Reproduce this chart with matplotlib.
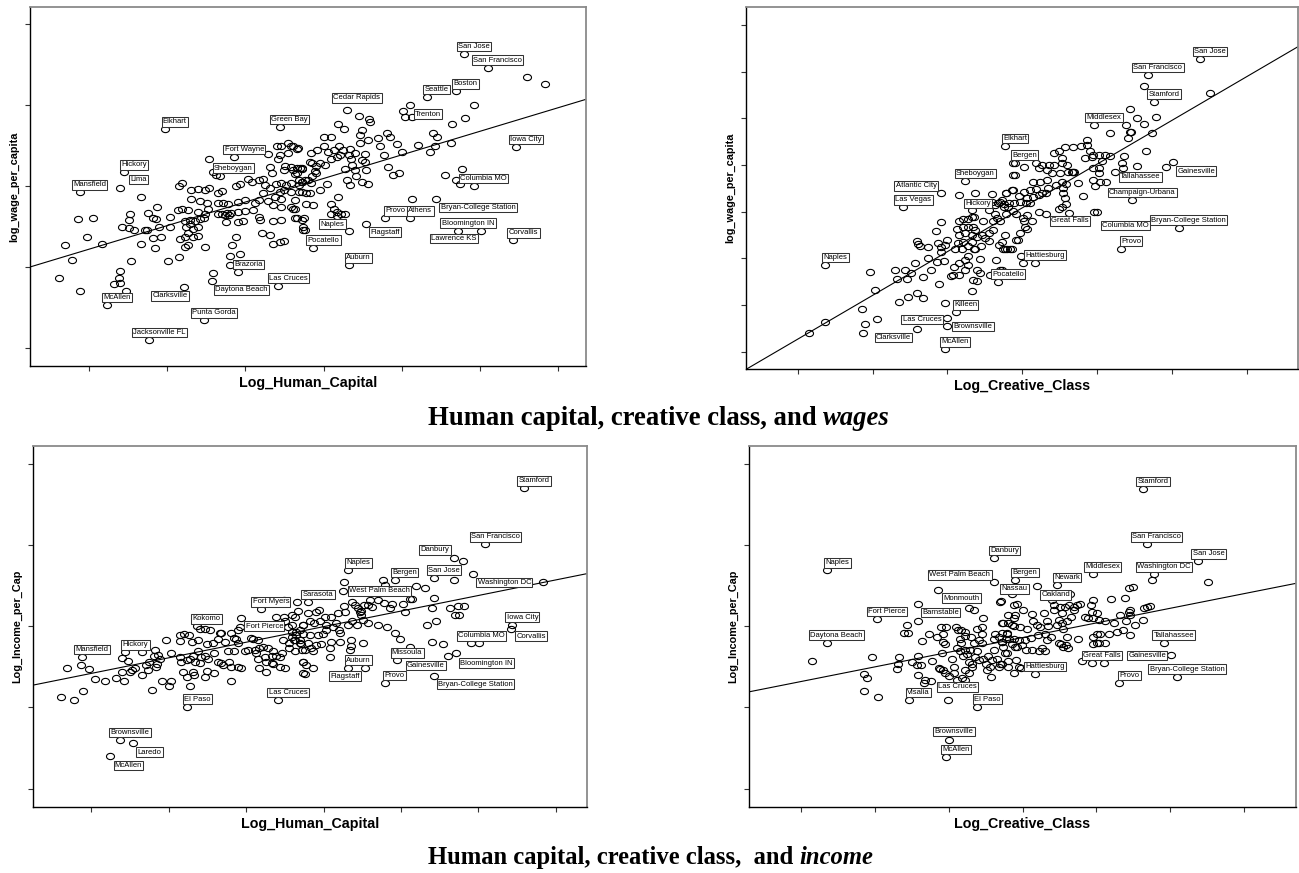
import numpy as np
import matplotlib
matplotlib.use("Agg")
import matplotlib.pyplot as plt
from matplotlib.path import Path

# ---------------------------------------------------------------
# Metro-area scatter data (log scale units, unlabeled ticks)
# ---------------------------------------------------------------

# Panel A: Log_Human_Capital vs log_wage_per_capita
wage_hc_points = [
    (0.61,1.86),(0.88,1.70),(0.78,2.09),(0.69,2.27),(0.97,2.37),(0.86,2.59),(1.05,2.60),(1.17,2.29),
    (1.40,1.95),(1.38,1.87),(1.32,1.79),(1.40,1.80),(1.47,1.70),(1.54,2.07),(1.42,2.49),(1.51,2.58),
    (1.51,2.48),(1.57,2.46),(1.52,2.66),(1.66,2.87),(1.67,2.29),(1.71,2.46),(1.74,2.46),(1.75,2.67),
    (1.82,2.61),(1.86,2.59),(1.87,2.74),(1.82,2.36),(1.92,2.37),(1.84,2.23),(1.89,2.49),(2.01,2.07),
    (2.04,2.62),(2.04,2.49),(2.15,3.00),(2.19,3.04),(2.14,2.70),(2.19,2.72),(2.27,2.70),(2.15,2.12),
    (2.16,2.34),(2.23,2.37),(2.27,2.42),(2.33,2.37),(2.40,2.38),(2.27,2.27),(2.23,2.25),(2.49,2.25),
    (2.23,2.57),(2.29,2.58),(2.36,2.57),(2.42,2.59),(2.47,2.60),(2.24,2.50),(2.29,2.53),(2.33,2.47),
    (2.40,2.49),(2.31,2.95),(2.40,2.96),(2.48,2.95),(2.54,2.97),(2.31,2.84),(2.42,2.81),(2.51,2.79),
    (2.52,2.72),(2.40,2.68),(2.48,2.66),(2.54,3.33),(2.59,3.17),(2.63,3.13),(2.65,2.91),(2.70,2.94),
    (2.65,2.79),(2.72,2.79),(2.78,2.78),(2.65,2.65),(2.70,2.66),(2.74,2.64),(2.76,2.67),(2.79,2.64),
    (2.82,2.67),(2.88,3.00),(2.93,3.03),(2.91,2.80),(3.00,2.83),(2.91,2.68),(3.00,2.69),(2.75,2.55),
    (2.90,2.56),(2.97,2.57),(2.83,2.27),(2.88,2.37),(2.80,2.14),(2.93,2.16),(2.80,2.02),(2.58,1.92),
    (3.04,3.09),(3.08,3.05),(3.17,3.07),(3.22,3.09),(3.25,3.01),(3.32,2.98),(3.39,3.02),(3.46,3.04),
    (3.52,3.01),(3.59,3.04),(3.68,3.07),(3.72,3.05),(3.12,2.79),(3.17,2.83),(3.22,2.91),(3.29,2.81),
    (3.38,2.87),(3.44,2.92),(3.46,2.84),(3.49,2.95),(3.36,2.77),(3.46,2.74),(3.59,2.74),(3.64,2.83),
    (3.73,2.92),(3.10,2.70),(3.17,2.62),(3.36,2.57),(3.46,2.58),(3.61,2.72),(3.64,2.60),(3.72,2.58),
    (3.19,2.58),(3.74,2.46),(3.21,2.42),(3.31,2.40),(3.35,2.29),(3.44,2.31),(3.49,2.32),(3.29,3.39),
    (3.40,3.50),(3.46,3.49),(3.44,3.38),(3.54,3.53),(3.59,3.49),(3.67,3.47),(3.55,3.41),(3.42,3.33),
    (3.32,3.24),(3.51,3.25),(3.59,3.24),(3.66,3.22),(3.49,3.20),(3.34,3.16),(3.72,3.22),(3.64,3.15),
    (6.60,4.34),(6.83,4.26),(5.93,4.00),(5.02,3.93),(5.04,3.85),(5.13,3.85),(5.81,3.84),(5.65,3.77),
    (4.45,3.86),(4.58,3.83),(4.59,3.79),(4.18,3.77),(4.26,3.71),(4.49,3.69),(4.47,3.63),(4.57,3.57),
    (4.70,3.59),(4.81,3.66),(4.85,3.61),(4.94,3.52),(5.40,3.65),(5.45,3.60),(5.21,3.51),(5.43,3.49),
    (5.36,3.42),(5.63,3.53),(5.01,3.42),(4.00,3.61),(4.10,3.60),(3.61,3.49),(3.66,3.46),(3.84,3.41),
    (3.92,3.44),(4.01,3.49),(4.06,3.42),(4.13,3.44),(4.20,3.49),(4.25,3.44),(4.34,3.46),(4.40,3.41),
    (4.47,3.53),(4.53,3.40),(4.78,3.38),(4.72,3.49),(3.83,3.30),(3.85,3.28),(3.95,3.28),(3.91,3.25),
    (4.02,3.26),(4.10,3.33),(4.17,3.36),(4.21,3.38),(4.32,3.38),(4.35,3.33),(4.49,3.32),(4.53,3.30),
    (3.61,3.20),(3.70,3.22),(3.73,3.21),(3.66,3.16),(3.89,3.19),(3.91,3.16),(3.85,3.12),(4.28,3.21),
    (4.36,3.26),(4.40,3.20),(4.54,3.20),(4.83,3.24),(4.89,3.14),(4.96,3.16),(5.77,3.21),(5.55,3.13),
    (5.69,3.08),(5.74,3.02),(3.72,3.05),(3.76,3.07),(3.80,3.07),(3.84,3.04),(3.68,3.01),(4.05,3.03),
    (4.30,3.07),(4.34,3.01),(4.42,3.12),(4.49,3.05),(4.57,3.03),(3.59,2.93),(3.68,2.92),(3.78,2.91),
    (3.83,2.91),(3.95,2.95),(4.18,2.87),(3.78,2.78),(3.87,2.77),(3.63,2.72),(4.10,2.78),(4.13,2.72),
    (4.17,2.68),(4.23,2.66),(4.28,2.66),(4.09,2.66),(3.66,2.60),(3.75,2.60),(3.74,2.50),(3.76,2.46),
    (4.17,2.63),(5.13,2.84),
]
wage_hc_cities = ["Elkhart", "Green Bay", "Fort Wayne", "Hickory", "Lima", "Mansfield", "Sheboygan",
                  "Brazoria", "Las Cruces", "Daytona Beach", "McAllen", "Clarksville", "Punta Gorda",
                  "Jacksonville FL", "San Jose", "San Francisco", "Boston", "Seattle", "Cedar Rapids",
                  "Trenton", "Iowa City", "Columbia MO", "Provo", "Athens", "Bryan-College Station",
                  "Bloomington IN", "Lawrence KS", "Corvallis", "Naples", "Flagstaff", "Pocatello", "Auburn"]
wage_hc_city_x = [1.97, 3.44, 2.86, 1.45, 1.40, 0.88, 2.67, 2.91, 3.42, 2.57, 1.23, 2.22, 2.47, 1.77,
                  5.80, 6.10, 5.69, 5.32, 4.30, 5.11, 6.46, 5.92, 4.79, 5.11, 5.44, 5.72, 6.01, 6.43,
                  4.32, 4.54, 3.87, 4.32]
wage_hc_city_y = [3.70, 3.73, 3.36, 3.17, 2.98, 2.92, 3.12, 1.94, 1.77, 1.83, 1.53, 1.75, 1.34, 1.10,
                  4.63, 4.46, 4.17, 4.10, 3.94, 4.00, 3.48, 3.00, 2.60, 2.60, 2.84, 2.45, 2.45, 2.33,
                  2.44, 2.53, 2.24, 2.02]
wage_hc_fit = (1.929, 0.291)  # intercept, slope

# Panel B: Log_Creative_Class vs log_wage_per_capita
wage_cc_points = [
    (1.15,1.39),(1.36,1.64),(1.86,1.91),(1.90,1.59),(2.06,1.71),(1.97,2.71),(2.03,2.32),(2.30,2.76),
    (2.43,2.76),(2.33,2.56),(2.46,2.56),(2.52,2.68),(2.35,2.07),(2.47,2.18),(2.60,2.25),(2.68,2.16),
    (2.57,2.89),(2.68,2.59),(2.74,3.00),(2.78,2.76),(2.59,3.38),(2.61,3.30),(2.64,3.26),(2.74,3.24),
    (2.89,2.45),(2.86,2.93),(2.95,2.94),(2.92,3.14),(2.92,3.25),(2.88,3.32),(2.97,3.29),(3.00,3.39),
    (2.85,3.59),(2.91,3.77),(3.05,2.62),(3.08,2.64),(3.15,2.64),(3.09,2.82),(3.15,2.89),(3.24,2.76),
    (3.28,2.86),(3.24,2.96),(3.28,3.05),(3.19,3.21),(3.10,3.21),(3.14,3.32),(3.21,3.36),(3.28,3.26),
    (3.33,3.34),(3.37,3.19),(3.45,3.26),(3.39,3.45),(3.46,3.50),(3.50,3.43),(3.55,3.38),(3.37,3.61),
    (3.33,3.50),(3.24,3.54),(3.16,3.50),(3.13,3.62),(3.16,3.79),(3.21,3.84),(3.28,3.84),(3.36,3.89),
    (3.21,3.68),(3.28,3.68),(3.34,3.68),(3.48,3.79),(3.56,3.54),(3.61,3.61),(3.55,4.04),(3.63,3.96),
    (3.66,3.86),(3.61,3.79),(3.70,3.79),(3.59,4.38),(3.60,4.21),(3.64,4.14),(3.68,4.19),(3.73,4.24),
    (3.76,4.09),(3.79,4.39),(3.86,4.46),(3.82,4.18),(3.88,4.01),(3.88,4.79),(3.88,5.04),(3.37,4.39),
    (3.16,4.36),(3.33,3.88),(3.69,3.29),(3.77,3.21),(3.84,3.21),(3.65,2.96),(3.44,2.98),(3.35,3.21),
    (3.33,2.29),(2.97,2.04),(3.00,1.73),(3.39,2.76),(3.34,2.54),(3.39,2.52),(3.43,2.69),(3.57,2.64),
    (3.73,2.76),(3.68,2.64),
    (5.63,6.70),(6.51,6.54),(5.44,6.21),(5.53,6.00),(5.79,6.02),(5.63,5.87),(5.39,5.86),(5.18,5.69),
    (5.44,5.71),(5.46,5.71),(5.42,5.57),(5.74,5.69),(4.87,5.54),(4.79,5.41),(4.87,5.43),(4.68,5.38),
    (4.57,5.39),(5.66,5.31),(5.36,5.20),(4.95,5.21),(4.93,5.18),(5.02,5.21),(5.11,5.21),(5.17,5.19),
    (4.90,5.29),(4.84,5.14),(5.06,5.09),(5.33,5.05),(5.35,4.93),(5.53,4.98),(5.92,4.95),(4.95,4.93),
    (5.03,4.94),(5.03,4.82),(4.95,4.68),(5.04,4.64),(5.12,4.63),(4.97,4.54),(4.81,4.34),(4.75,4.61),
    (4.42,5.26),(4.49,5.31),(4.53,5.16),(4.60,5.01),(4.66,4.86),(4.68,4.84),(4.69,4.86),(4.61,4.84),
    (4.53,5.05),(4.43,5.01),(4.36,5.00),(4.27,5.00),(4.18,5.04),(4.23,4.93),(4.33,4.89),(4.40,4.82),
    (4.51,4.82),(4.59,4.59),(4.53,4.64),(4.33,4.68),(4.24,4.64),(4.15,4.64),(4.02,4.95),(3.90,4.79),
    (3.78,4.39),(3.88,4.46),(3.96,4.34),(4.03,4.43),(4.10,4.46),(4.18,4.48),(4.06,4.29),(4.15,4.32),
    (4.22,4.36),(4.27,4.39),(4.32,4.41),(4.35,4.50),(4.45,4.57),(4.55,4.50),(4.54,4.39),(4.57,4.29),
    (3.70,4.21),(3.76,4.16),(3.81,4.11),(3.89,4.18),(3.97,4.21),(4.05,4.18),(4.11,4.19),(3.79,3.96),
    (3.92,3.96),(4.07,3.93),(4.01,3.86),(4.03,3.79),(4.04,3.68),(4.06,3.62),(3.97,3.54),(3.92,3.39),
    (3.95,3.39),(3.77,3.50),(3.73,3.34),(3.74,3.21),(3.80,3.21),(3.86,3.21),(3.98,3.05),(4.01,2.89),
    (4.13,3.79),(4.23,4.00),(4.32,3.96),(4.49,4.05),(4.53,4.09),(4.59,4.16),(4.96,4.00),(3.70,2.75),
]
wage_cc_cities = ["Naples", "Atlantic City", "Las Vegas", "Sheboygan", "Hickory", "Elkhart", "Bergen",
                  "Killeen", "Las Cruces", "Brownsville", "Clarksville", "McAllen", "Pocatello",
                  "San Jose", "San Francisco", "Stamford", "Middlesex", "Gainesville", "Tallahassee",
                  "Champaign-Urbana", "Great Falls", "Columbia MO", "Bryan-College Station", "Provo",
                  "Hattiesburg"]
wage_cc_city_x = [1.37, 2.92, 2.41, 3.24, 3.33, 3.77, 3.90, 3.11, 2.59, 2.99, 1.87, 2.97, 3.68,
                  6.38, 5.68, 5.76, 4.96, 6.01, 5.24, 5.47, 4.62, 5.00, 6.09, 5.32, 4.17]
wage_cc_city_y = [2.86, 4.39, 4.09, 4.66, 4.04, 5.41, 5.05, 1.84, 1.49, 1.54, 1.41, 1.05, 2.50,
                  7.27, 6.93, 6.36, 5.86, 5.07, 4.84, 4.25, 3.98, 4.00, 3.66, 3.21, 2.91]
wage_cc_fit = (0.331, 0.9374)

# Panel C: Log_Human_Capital vs Log_Income_per_Cap
inc_hc_points = [
    (0.61,2.13),(0.78,2.09),(0.89,2.20),(0.69,2.49),(0.86,2.52),(0.97,2.47),(1.04,2.35),(1.17,2.33),
    (1.32,2.36),(1.39,2.44),(1.42,2.33),(1.39,2.61),(1.47,2.57),(1.53,2.46),(1.50,2.44),(1.56,2.48),
    (1.66,2.40),(1.66,2.68),(1.71,2.52),(1.75,2.56),(1.73,2.46),(1.78,2.21),(1.81,2.63),(1.82,2.71),
    (1.84,2.50),(1.86,2.65),(1.88,2.60),(1.85,2.53),(1.91,2.32),(2.00,2.27),(2.03,2.32),(1.97,2.83),
    (2.03,2.67),(2.14,2.89),(2.20,2.91),(2.15,2.82),(2.26,2.89),(2.30,2.81),(2.15,2.62),(2.16,2.56),
    (2.23,2.58),(2.27,2.60),(2.31,2.64),(2.38,2.69),(2.42,2.62),(2.47,2.64),(2.51,2.60),(2.34,2.56),
    (2.40,2.55),(2.19,2.44),(2.23,2.37),(2.31,2.44),(2.33,2.40),(2.27,2.27),(2.47,2.37),(2.50,2.45),
    (2.59,2.43),(2.80,2.33),(2.40,2.97),(2.47,2.97),(2.53,2.95),(2.38,2.83),(2.49,2.78),(2.57,2.80),
    (2.63,2.84),(2.66,2.92),(2.68,2.92),(2.72,2.81),(2.81,2.92),(2.84,2.86),(2.87,2.84),(2.90,2.79),
    (2.77,2.69),(2.84,2.69),(2.59,2.67),(2.63,2.56),(2.67,2.55),(2.70,2.52),(2.78,2.56),(2.80,2.50),
    (2.90,2.50),(2.93,2.49),(2.98,2.69),(3.03,2.71),(3.06,2.86),(3.09,2.84),(3.15,2.83),(2.93,3.10),
    (2.90,2.95),(3.11,2.71),(3.13,2.67),(3.16,2.73),(3.22,2.75),(3.15,2.60),(3.24,2.62),(3.26,2.56),
    (3.33,2.64),(3.35,2.54),(3.39,2.64),(3.46,2.67),(3.44,2.62),(3.44,2.50),(3.50,2.49),(3.16,2.49),
    (3.26,2.44),(3.33,2.55),(3.28,2.73),(3.35,2.69),(3.49,3.32),(3.66,3.30),(3.59,3.14),(3.63,3.12),
    (3.50,3.06),(3.54,2.99),(3.59,2.93),(3.64,2.89),(3.69,2.95),(3.74,3.01),(3.48,2.83),(3.56,2.79),
    (3.62,2.83),(3.69,2.79),(3.72,2.71),(3.74,2.56),(3.74,2.42),(3.63,2.69),(3.39,3.12),(3.49,3.12),
    (5.80,3.80),(4.77,3.57),(4.80,3.51),(5.20,3.50),(5.31,3.47),(4.27,3.54),(5.43,3.35),(5.14,3.34),
    (5.12,3.34),(5.03,3.27),(5.05,3.18),(4.86,3.22),(4.88,3.27),(4.78,3.29),(4.71,3.32),(4.60,3.32),
    (4.57,3.26),(4.52,3.26),(4.45,3.22),(4.49,3.19),(4.37,3.30),(4.41,3.26),(4.62,3.24),(5.40,3.22),
    (5.63,3.23),(5.74,3.25),(5.81,3.25),(5.70,3.14),(5.75,3.14),(5.34,3.01),(5.45,3.06),(5.40,2.81),
    (5.54,2.78),(6.01,2.80),(5.61,2.64),(4.71,3.01),(4.82,2.99),(4.93,2.92),(4.58,3.04),(4.51,3.08),
    (4.49,3.14),(4.47,3.18),(4.43,3.01),(4.37,3.06),(4.32,3.01),(4.28,3.18),(4.26,3.25),(4.19,3.16),
    (4.10,3.12),(4.02,3.12),(3.94,3.20),(3.90,3.18),(3.80,3.16),(3.67,3.19),(3.73,3.01),(3.82,3.06),
    (3.88,3.04),(3.95,3.06),(4.03,3.01),(4.12,2.99),(4.16,3.04),(4.20,2.96),(4.21,2.92),(3.99,2.91),
    (4.03,2.95),(3.93,2.89),(3.82,2.89),(3.74,2.91),(3.65,2.93),(3.59,3.01),(3.59,2.87),(3.63,2.83),
    (3.69,2.83),(3.71,2.78),(3.80,2.79),(3.84,2.73),(3.90,2.77),(3.97,2.78),(4.10,2.81),(4.21,2.81),
    (4.36,2.83),(4.51,2.80),(4.35,2.76),(4.34,2.71),(4.08,2.73),(4.08,2.62),(3.76,2.71),(3.86,2.70),
    (3.74,2.56),(3.77,2.52),(3.86,2.49),(3.76,2.41),(3.56,2.73),(4.99,2.84),(5.69,3.57),(6.83,3.55),
]
inc_hc_cities = ["Mansfield", "Hickory", "Kokomo", "Fort Myers", "Fort Pierce", "El Paso", "Las Cruces",
                 "Brownsville", "Laredo", "McAllen", "Stamford", "San Francisco", "Danbury", "Naples",
                 "Bergen", "San Jose", "Washington DC", "West Palm Beach", "Sarasota", "Iowa City",
                 "Corvallis", "Columbia MO", "Missoula", "Gainesville", "Bloomington IN",
                 "Bryan-College Station", "Provo", "Auburn", "Flagstaff"]
inc_hc_city_x = [0.88, 1.44, 2.36, 3.19, 2.92, 2.24, 3.41, 1.37, 1.54, 1.24, 6.59, 6.09, 5.69, 4.32,
                 4.92, 5.43, 5.93, 4.25, 3.80, 6.44, 6.42, 5.91, 4.95, 5.12, 5.71, 5.43, 4.79, 4.32, 4.53]
inc_hc_city_y = [2.62, 2.68, 3.00, 3.21, 2.99, 2.01, 2.09, 1.60, 1.56, 1.40, 4.70, 4.01, 3.84, 3.69,
                 3.57, 3.60, 3.64, 3.44, 3.30, 3.02, 2.97, 2.79, 2.58, 2.75, 2.67, 2.39, 2.30, 2.49, 2.49]
inc_hc_fit = (2.228, 0.1919)

# Panel D: Log_Creative_Class vs Log_Income_per_Cap
inc_cc_points = [
    (1.15,2.57),(1.96,2.62),(1.85,2.41),(1.89,2.36),(1.86,2.20),(2.05,2.13),(2.33,2.62),(2.31,2.53),
    (2.30,2.47),(2.44,3.02),(2.40,2.92),(2.45,2.92),(2.58,3.27),(2.64,2.82),(2.50,2.56),(2.57,2.52),
    (2.63,2.52),(2.59,2.63),(2.58,2.40),(2.68,2.34),(2.67,2.30),(2.76,2.32),(2.78,2.57),(2.74,2.90),
    (2.84,2.87),(2.90,2.99),(2.92,2.91),(2.92,2.81),(2.95,2.78),(2.97,2.99),(2.91,2.67),(2.89,2.47),
    (2.87,2.48),(2.93,2.46),(2.95,2.43),(3.00,2.39),(3.04,2.60),(3.07,2.50),(3.08,2.42),(3.11,2.34),
    (3.10,2.99),(3.13,2.96),(3.17,2.95),(3.22,2.93),(3.22,2.88),(3.15,2.84),(3.17,2.79),(3.11,2.73),
    (3.16,2.69),(3.19,2.63),(3.22,2.71),(3.25,2.66),(3.29,2.71),(3.27,2.56),(3.32,2.54),(3.22,2.46),
    (3.27,2.42),(3.18,2.36),(3.22,2.34),(3.32,2.50),(3.36,2.62),(3.38,2.69),(3.41,2.58),(3.34,2.80),
    (3.41,2.83),(3.45,2.80),(3.31,2.87),(3.38,2.97),(3.45,2.99),(3.47,3.10),(3.45,2.91),(3.27,3.23),
    (3.34,3.20),(3.46,2.60),(3.50,2.53),(3.54,2.63),(3.58,2.37),(3.52,2.46),(3.56,2.50),(3.59,2.58),
    (3.61,2.71),(3.65,2.60),(3.68,2.50),(3.61,2.84),(3.63,2.91),(3.68,2.87),(3.72,2.81),(3.74,2.75),
    (3.77,2.67),(3.72,2.92),(3.79,2.92),(3.82,2.84),(3.86,2.78),(3.72,3.04),(3.80,3.04),(3.71,3.31),
    (3.89,3.10),(3.89,3.00),(3.90,2.75),(3.72,2.54),(3.81,2.50),(3.88,2.42),(3.89,3.26),
    (6.51,3.55),(5.75,3.57),(4.19,3.50),(5.44,3.47),(5.50,3.48),(4.95,3.32),(5.20,3.34),(5.38,3.35),
    (3.70,3.30),(3.93,3.27),(4.00,3.20),(4.13,3.15),(4.29,3.17),(4.40,3.33),(4.42,3.26),(4.43,3.20),
    (4.51,3.24),(4.53,3.16),(4.57,3.24),(4.63,3.26),(4.69,3.24),(4.74,3.26),(4.78,3.28),(4.70,3.20),
    (4.92,3.26),(4.94,3.18),(5.01,3.16),(5.11,3.06),(4.85,3.12),(4.89,3.10),(4.96,3.10),(5.04,3.08),
    (5.44,3.18),(5.46,3.20),(5.64,3.22),(5.68,3.24),(5.73,3.25),(5.46,3.14),(5.32,3.14),(5.24,3.04),
    (5.40,3.06),(5.52,3.01),(5.63,3.08),(5.28,2.93),(5.36,2.95),(5.46,2.89),(5.17,2.91),(5.05,2.91),
    (5.01,2.90),(4.95,2.87),(4.75,2.84),(4.60,2.87),(4.52,2.78),(4.55,2.75),(4.59,2.77),(4.61,2.73),
    (4.49,2.79),(4.33,2.83),(4.38,2.87),(4.31,2.91),(4.21,2.89),(4.12,2.85),(4.04,2.83),(3.95,2.83),
    (3.88,2.84),(3.78,2.84),(3.72,2.81),(4.24,2.99),(4.19,3.01),(4.34,3.00),(4.47,3.01),(4.54,3.04),
    (4.55,2.97),(4.49,3.08),(4.60,3.06),(4.65,3.12),(4.33,3.06),(4.14,3.06),(4.06,2.97),(3.97,2.99),
    (3.86,3.01),(3.79,2.91),(3.74,3.04),(3.90,3.14),(3.81,3.14),(3.92,2.75),(3.99,2.77),(4.05,2.71),
    (4.13,2.71),(4.22,2.69),(4.26,2.73),(4.31,2.69),(3.79,2.67),(3.81,2.57),(3.91,2.58),(3.95,2.50),
    (3.98,2.49),(3.70,2.54),(5.10,2.55),(4.80,2.57),(4.95,2.78),(5.01,2.79),(5.03,2.80),(5.12,2.80),
]
inc_cc_cities = ["Naples", "Daytona Beach", "Fort Pierce", "Barnstable", "Monmouth", "West Palm Beach",
                 "Danbury", "Visalia", "Las Cruces", "El Paso", "Brownsville", "McAllen", "Stamford",
                 "San Francisco", "San Jose", "Washington DC", "Middlesex", "Newark", "Bergen", "Nassau",
                 "Oakland", "Tallahassee", "Great Falls", "Gainesville", "Bryan-College Station",
                 "Provo", "Hattiesburg"]
inc_cc_city_x = [1.36, 1.35, 2.03, 2.59, 2.86, 3.62, 3.62, 2.46, 2.99, 3.39, 3.00, 2.96, 5.63, 5.68,
                 6.38, 5.78, 4.95, 4.47, 3.90, 3.86, 4.64, 5.91, 4.94, 6.01, 6.09, 5.31, 4.17]
inc_cc_city_y = [3.69, 2.80, 3.09, 3.07, 3.45, 3.54, 3.84, 2.09, 2.09, 2.01, 1.60, 1.39, 4.69, 4.01,
                 3.80, 3.64, 3.64, 3.51, 3.57, 3.40, 3.40, 2.80, 2.55, 2.65, 2.38, 2.30, 2.41]
inc_cc_fit = (2.138, 0.1807)

# ---------------------------------------------------------------
# Label-box offsets from each city's marker, in pixels (right, down)
# ---------------------------------------------------------------
DEFAULT_OFF = (10, -7.5)
wage_hc_off = {"Lima": (18, -8), "Sheboygan": (14, -8), "Daytona Beach": (30, 9),
               "Clarksville": (-14.6, 8.7), "Cedar Rapids": (10, -12), "Trenton": (17.7, 9),
               "Bryan-College Station": (42, 8.7), "Lawrence KS": (-26.8, 8), "Naples": (-16, -7.3),
               "Flagstaff": (19.3, 8)}
wage_cc_off = {"Atlantic City": (-25.3, -7.5), "Hickory": (6, -6.3), "Las Cruces": (5.3, -9.5),
               "Brownsville": (26.3, 0), "Clarksville": (30.6, 5), "Gainesville": (23.6, 9.3),
               "Tallahassee": (25.5, 4.4), "Great Falls": (1.7, 8.3), "Columbia MO": (28.3, 14)}
inc_hc_off = {"Fort Pierce": (24.3, -1), "Laredo": (16.2, 9), "McAllen": (18.5, 9.3),
              "Danbury": (-19.3, -8.3), "Washington DC": (31.5, 8.3), "West Palm Beach": (36.7, 0.3),
              "Corvallis": (20.1, 7.4), "Gainesville": (15.5, 19), "Bloomington IN": (30.6, 10),
              "Bryan-College Station": (41.5, 8.3), "Flagstaff": (-19.2, 8.4)}
inc_cc_off = {"Barnstable": (22.5, -8), "Monmouth": (23.2, 8.3), "West Palm Beach": (-34.6, -7.7),
              "Las Cruces": (9.5, -13.3), "Brownsville": (5.4, -8.3), "Nassau": (2.3, -5),
              "Oakland": (-14.3, 1), "Gainesville": (-24, 1)}

# ---------------------------------------------------------------
W, H, DPI = 1299, 873, 100
fig = plt.figure(figsize=(W / DPI, H / DPI), dpi=DPI)
fig.patch.set_facecolor("white")

SANS = ["Liberation Sans", "DejaVu Sans"]
SERIF = ["Liberation Serif", "DejaVu Serif"]
PX = 72.0 / DPI  # points per pixel

# hollow, slightly wide "o" marker
theta = np.linspace(0, 2 * np.pi, 49)
ring = Path(np.column_stack([np.cos(theta), 0.78 * np.sin(theta)]), closed=True)


def panel(rect_px, xlim, ylim, nx, ny, pts, names, cx, cy, offs, fit, xlabel, ylabel):
    l, t, r, b = rect_px
    w, h = r - l, b - t
    ax = fig.add_axes([l / W, 1 - b / H, w / W, h / H])
    ax.set_xlim(*xlim)
    ax.set_ylim(*ylim)
    ax.set_xticks(np.arange(1, nx + 1))
    ax.set_yticks(np.arange(1, ny + 1))
    ax.set_xticklabels([])
    ax.set_yticklabels([])
    ax.tick_params(direction="out", length=5 * PX, width=0.8, color="#333333")
    for side in ("left", "bottom"):
        ax.spines[side].set_color("black")
        ax.spines[side].set_linewidth(1.0)
    for side in ("top", "right"):
        ax.spines[side].set_color("#8a8a8a")
        ax.spines[side].set_linewidth(1.3)

    px_ = np.array([p[0] for p in pts] + list(cx))
    py_ = np.array([p[1] for p in pts] + list(cy))
    ax.plot(px_, py_, ls="none", marker=ring, ms=8 * PX, mfc="none", mec="black",
            mew=0.8, zorder=3, clip_on=False)

    xx = np.array(xlim)
    ax.plot(xx, fit[0] + fit[1] * xx, color="black", lw=0.8, zorder=2)

    for name, x, y in zip(names, cx, cy):
        dx, dy = offs.get(name, DEFAULT_OFF)
        ax.annotate(name, (x, y), xytext=(dx * PX, -dy * PX), textcoords="offset points",
                    ha="center", va="center", fontsize=5.5, family=SANS, zorder=5,
                    bbox=dict(boxstyle="square,pad=0.17", fc="white", ec="#333333", lw=0.75))

    ax.set_xlabel(xlabel, fontsize=10.3, fontweight="bold", family=SANS)
    ax.set_ylabel(ylabel, fontsize=7.8, fontweight="bold", family=SANS)
    ax.xaxis.set_label_coords(0.5, -10 / h)
    ax.yaxis.set_label_coords(-10.5 / w, 0.5)
    return ax


panel((30, 7, 586, 366), (0.245, 7.358), (0.778, 5.21), 7, 5,
      wage_hc_points, wage_hc_cities, wage_hc_city_x, wage_hc_city_y, wage_hc_off, wage_hc_fit,
      "Log_Human_Capital", "log_wage_per_capita")
panel((746, 7, 1298, 369), (0.309, 7.686), (0.629, 8.386), 7, 8,
      wage_cc_points, wage_cc_cities, wage_cc_city_x, wage_cc_city_y, wage_cc_off, wage_cc_fit,
      "Log_Creative_Class", "log_wage_per_capita")
panel((33, 446, 587, 807), (0.245, 7.405), (0.773, 5.222), 7, 5,
      inc_hc_points, inc_hc_cities, inc_hc_city_x, inc_hc_city_y, inc_hc_off, inc_hc_fit,
      "Log_Human_Capital", "Log_Income_per_Cap")
panel((749, 446, 1296, 807), (0.300, 7.700), (0.773, 5.222), 7, 5,
      inc_cc_points, inc_cc_cities, inc_cc_city_x, inc_cc_city_y, inc_cc_off, inc_cc_fit,
      "Log_Creative_Class", "Log_Income_per_Cap")

# captions: upright bold text followed by an italic final word
renderer = fig.canvas.get_renderer()


def caption(left_px, base_px, plain, emph, size):
    t1 = fig.text(left_px / W, 1 - base_px / H, plain.rstrip(), ha="left", va="baseline",
                  fontsize=size, fontweight="bold", family=SERIF)
    bb = t1.get_window_extent(renderer=renderer)
    gap = (len(plain) - len(plain.rstrip())) * 0.25 * size / PX
    fig.text((bb.x1 + gap) / W, 1 - base_px / H, emph, ha="left", va="baseline",
             fontsize=size, fontweight="bold", style="italic", family=SERIF)


caption(428, 425, "Human capital, creative class, and ", "wages", 19.2)
caption(428, 864, "Human capital, creative class,  and ", "income", 17.7)

fig.savefig("out.png", dpi=DPI)
